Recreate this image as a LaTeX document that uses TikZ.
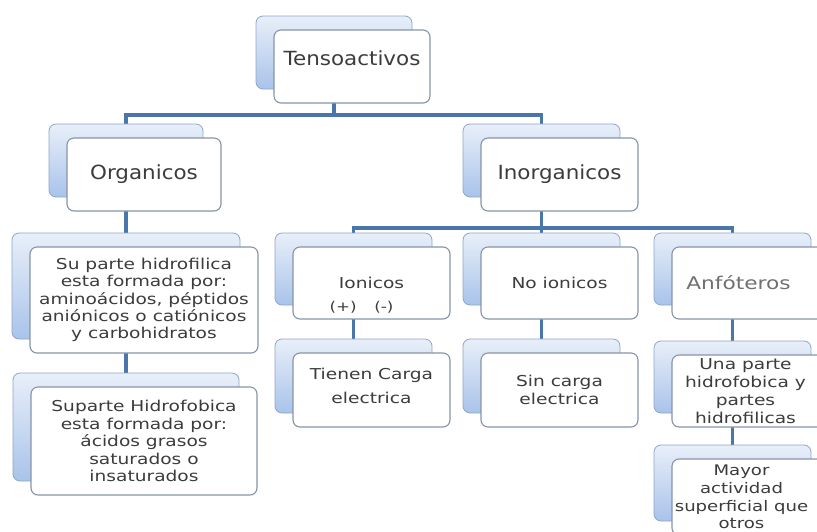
\documentclass[tikz,border=0pt]{standalone}
\usepackage{fontspec}
\setmainfont{DejaVu Sans}
\newfontfamily\bigf[FakeStretch=1.1]{DejaVu Sans}
\newfontfamily\smf[FakeStretch=1.24]{DejaVu Sans}
\definecolor{bbd}{HTML}{8EA6C8}
\definecolor{bbt}{HTML}{E8EFF9}
\definecolor{bbb}{HTML}{A9C3EA}
\definecolor{fbd}{HTML}{8794A8}
\definecolor{cn}{HTML}{4A76AC}
\definecolor{txt}{HTML}{3C3C3C}
\definecolor{txtl}{HTML}{707070}
\tikzset{
  backbox/.style={draw=bbd, rounded corners=7pt, top color=bbt, bottom color=bbb, line width=0.8pt, inner sep=0pt, outer sep=0pt},
  frontbox/.style={draw=fbd, fill=white, rounded corners=7pt, line width=1.1pt, inner sep=0pt, outer sep=0pt},
  conn/.style={draw=cn, line width=3.2pt},
  bigtxt/.style={font=\bigf\fontsize{19.5}{22}\selectfont, text=txt, align=center},
  smtxt/.style={font=\smf\fontsize{15}{17.4}\selectfont, text=txt, align=center},
}
% name, cx, cy, w, h, text style, text
\newcommand\hbnode[7]{%
  \node[backbox, minimum width=#4pt, minimum height=#5pt] (#1b) at ({#2-18},{#3-14}) {};
  \node[frontbox, minimum width=#4pt, minimum height=#5pt] (#1) at (#2,#3) {};
  \node[#6] (#1t) at (#1) {#7};
}
\begin{document}
\begin{tikzpicture}[x=1pt,y=-1pt]
\useasboundingbox (0,0) rectangle (817,531);
\clip (0,0) rectangle (817,531);
\fill[white] (0,0) rectangle (817,531);

% coordinates for connectors (drawn first, boxes cover ends)
\coordinate (Tbc) at (334,103);
\coordinate (j1) at (334,115);
\coordinate (j2) at (541.5,228);

% connectors
\draw[conn] (Tbc) -- (j1);
\draw[conn] (j1) -| (126,125);
\draw[conn] (j1) -| (541.5,125);
\draw[conn] (126,211) -- (126,233);
\draw[conn] (126,353) -- (126,373);
\draw[conn] (541.5,211) -- (j2);
\draw[conn] (j2) -| (353.5,233);
\draw[conn] (j2) -- (541.5,233);
\draw[conn] (j2) -| (732.5,233);
\draw[conn] (353.5,319) -- (353.5,340);
\draw[conn] (541.5,319) -- (541.5,340);
\draw[conn] (732.5,319) -- (732.5,341);
\draw[conn] (732.5,427) -- (732.5,445);

% boxes
\hbnode{T}{352}{66.5}{156}{73}{bigtxt, yshift=8pt}{Tensoactivos}
\hbnode{O}{144}{174.5}{154}{73}{bigtxt}{Organicos}
\hbnode{I}{559.5}{174.5}{157}{73}{bigtxt}{Inorganicos}
\hbnode{SA}{144}{300}{228}{106}{smtxt}{Su parte hidrofilica\\esta formada por:\\aminoácidos, péptidos\\aniónicos o catiónicos\\y carbohidratos}
\hbnode{SB}{144}{441}{226}{108}{smtxt}{Suparte Hidrofobica\\esta formada por:\\ácidos grasos\\saturados o\\insaturados}
\hbnode{Io}{371.5}{283}{157}{72}{smtxt}{Ionicos}
\node[smtxt, font=\smf\fontsize{13.5}{15}\selectfont] (Iopm) at ([shift={(-10,24)}]Io.center) {(+)\hspace{1.3em}(-)};
\hbnode{Ni}{559.5}{283}{157}{72}{smtxt}{No ionicos}
\hbnode{An}{750.5}{283}{157}{72}{smtxt, text=txtl, xshift=-12pt, font=\smf\fontsize{17.5}{20}\selectfont}{Anfóteros}
\hbnode{Ti}{371.5}{390}{157}{74}{smtxt, yshift=4pt}{Tienen Carga\\[6pt]electrica}
\hbnode{Sc}{559.5}{390}{157}{74}{smtxt}{Sin carga\\electrica}
\hbnode{Un}{750.5}{391}{157}{72}{smtxt, xshift=-5pt, font=\smf\fontsize{15}{18}\selectfont}{Una parte\\hidrofobica y\\partes\\hidrofilicas}
\hbnode{Ma}{750.5}{497}{157}{76}{smtxt, xshift=-9pt, font=\smf\fontsize{14.6}{17.6}\selectfont}{Mayor\\actividad\\superficial que\\otros}
\end{tikzpicture}
\end{document}
